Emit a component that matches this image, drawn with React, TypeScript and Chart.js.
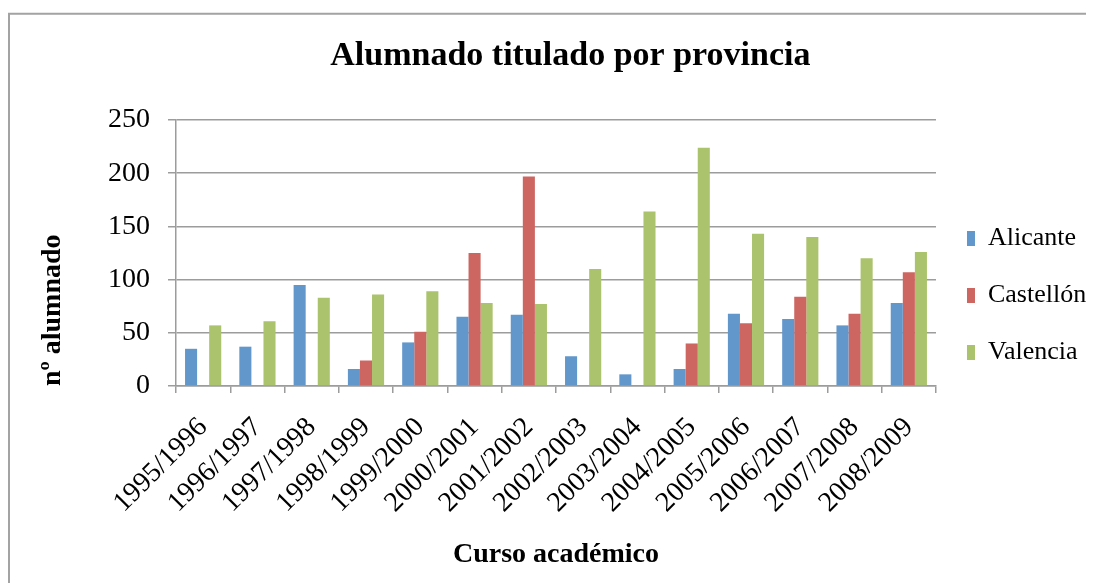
import React, { useEffect, useRef } from "react";
import { Chart, registerables } from "chart.js";

Chart.register(...registerables);

const categories = [
  "1995/1996", "1996/1997", "1997/1998", "1998/1999", "1999/2000", "2000/2001", "2001/2002",
  "2002/2003", "2003/2004", "2004/2005", "2005/2006", "2006/2007", "2007/2008", "2008/2009",
];
const alicante = [35, 37, 95, 16, 41, 65, 67, 28, 11, 16, 68, 63, 57, 78];
const castellon = [null, null, null, 24, 51, 125, 197, null, null, 40, 59, 84, 68, 107];
const valencia = [57, 61, 83, 86, 89, 78, 77, 110, 164, 224, 143, 140, 120, 126];
const seriesNames = ["Alicante", "Castellón", "Valencia"];
const yTicks = [0, 50, 100, 150, 200, 250];

const W = 1078;
const H = 575;
const FONT = "'Liberation Serif', 'Times New Roman', serif";
const GRID = "#9c9c9c";

const frame = {
  id: "frame",
  afterDraw(chart: any) {
    const ctx = chart.ctx;
    ctx.save();
    ctx.strokeStyle = "#a3a3a3";
    ctx.lineWidth = 2;
    ctx.beginPath();
    ctx.moveTo(1, H);
    ctx.lineTo(1, 5.7);
    ctx.lineTo(W, 5.7);
    ctx.stroke();
    ctx.restore();
  },
};

export default function App() {
  const ref = useRef<HTMLCanvasElement | null>(null);
  useEffect(() => {
    const canvas = ref.current;
    if (!canvas) return;
    const chart = new Chart(canvas, {
      type: "bar",
      data: {
        labels: categories,
        datasets: [
          { label: seriesNames[0], data: alicante, backgroundColor: "#6297cb" },
          { label: seriesNames[1], data: castellon, backgroundColor: "#cd6660" },
          { label: seriesNames[2], data: valencia, backgroundColor: "#abc36c" },
        ],
      },
      options: {
        responsive: false,
        animation: false,
        devicePixelRatio: 1,
        layout: { padding: { left: 36.5, right: -10.2, top: 0, bottom: 0 } },
        datasets: { bar: { categoryPercentage: 0.667, barPercentage: 1.0 } },
        plugins: {
          tooltip: { enabled: false },
          title: {
            display: true,
            text: "Alumnado titulado por provincia",
            color: "#000",
            font: { family: FONT, size: 34, weight: "bold" },
            padding: { top: 27.6, bottom: 43.6 },
          },
          legend: {
            display: true,
            position: "right",
            align: "center",
            labels: {
              color: "#000",
              font: { family: FONT, size: 26 },
              boxWidth: 8,
              boxHeight: 15,
              padding: 31,
            },
          },
        },
        scales: {
          x: {
            grid: {
              display: true,
              drawOnChartArea: false,
              drawTicks: true,
              tickLength: 7,
              color: GRID,
              lineWidth: 1.5,
            },
            border: { display: true, color: GRID, width: 1.5 },
            ticks: {
              color: "#000",
              font: { family: FONT, size: 28 },
              minRotation: 45,
              maxRotation: 45,
              autoSkip: false,
              padding: 18,
            },
            title: {
              display: true,
              text: "Curso académico",
              color: "#000",
              font: { family: FONT, size: 28, weight: "bold" },
              padding: { top: 0.7, bottom: 11.2 },
            },
          },
          y: {
            min: 0,
            max: 250,
            afterBuildTicks: (scale: any) => {
              scale.ticks = yTicks.map((v) => ({ value: v }));
            },
            grid: {
              color: GRID,
              lineWidth: 1.5,
              drawTicks: true,
              tickLength: 8,
            },
            border: { display: true, color: GRID, width: 1.5 },
            ticks: {
              color: "#000",
              font: { family: FONT, size: 28 },
              padding: 18,
            },
            title: {
              display: true,
              text: "nº alumnado",
              align: "start",
              color: "#000",
              font: { family: FONT, size: 28, weight: "bold" },
              padding: { top: -8.3, bottom: 20.2 },
            },
          },
        },
      },
      plugins: [frame],
    });
    return () => chart.destroy();
  }, []);
  return (
    <canvas
      ref={ref}
      width={W}
      height={H}
      style={{ display: "block", width: W + "px", height: H + "px" }}
    />
  );
}
